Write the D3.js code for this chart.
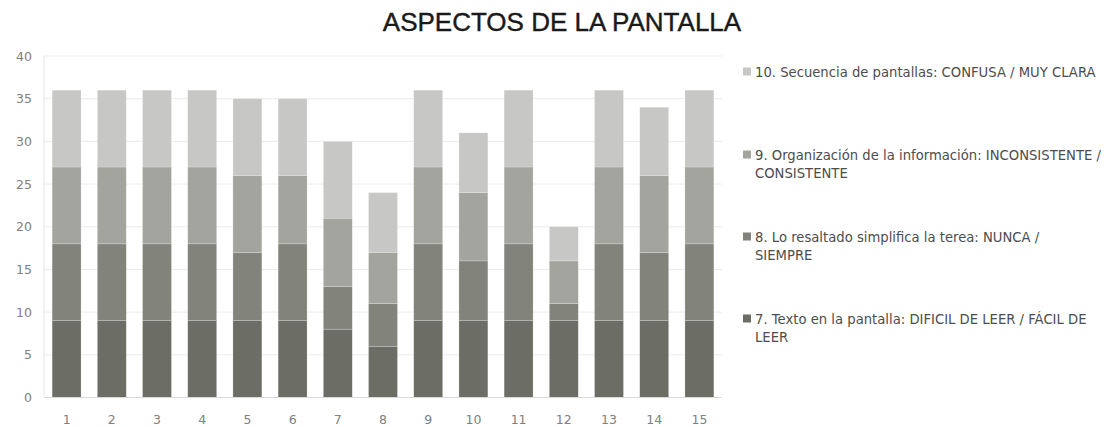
<!DOCTYPE html>
<html>
<head>
<meta charset="utf-8">
<script src="https://cdn.jsdelivr.net/npm/d3@7"></script>
<style>
  html, body { margin: 0; padding: 0; background: #fff; }
  svg { display: block; }
</style>
</head>
<body>
<svg id="chart" width="1117" height="427"></svg>
<script>
const categories = ["1","2","3","4","5","6","7","8","9","10","11","12","13","14","15"];
const seriesNames = [
  "7. Texto en la pantalla: DIFICIL DE LEER / FÁCIL DE LEER",
  "8. Lo resaltado simplifica la terea: NUNCA / SIEMPRE",
  "9. Organización de la información: INCONSISTENTE / CONSISTENTE",
  "10. Secuencia de pantallas: CONFUSA / MUY CLARA"
];
const s7  = [9,9,9,9,9,9,8,6,9,9,9,9,9,9,9];
const s8  = [9,9,9,9,8,9,5,5,9,7,9,2,9,8,9];
const s9  = [9,9,9,9,9,8,8,6,9,8,9,5,9,9,9];
const s10 = [9,9,9,9,9,9,9,7,9,7,9,4,9,8,9];
const yTicks = [0,5,10,15,20,25,30,35,40];
const title = "ASPECTOS DE LA PANTALLA";

const colors = ["#6c6d65", "#82837b", "#a3a49e", "#c7c7c5"];
const seriesVals = [s7, s8, s9, s10];

const svg = d3.select("#chart");
const W = 1117, H = 427;
const margin = {left: 44, right: W - 722, top: 56, bottom: H - 397.5};

const x = d3.scaleBand().domain(categories).range([margin.left, W - margin.right]).paddingInner(0.36).paddingOuter(0.18);
const y = d3.scaleLinear().domain([0, 40]).range([H - margin.bottom, margin.top]);

// gridlines
svg.append("g").selectAll("line").data(yTicks.filter(d => d > 0)).join("line")
  .attr("x1", margin.left).attr("x2", W - margin.right)
  .attr("y1", d => y(d)).attr("y2", d => y(d))
  .attr("stroke", "#ececec").attr("stroke-width", 1);

// left vertical line
svg.append("line")
  .attr("x1", margin.left).attr("x2", margin.left)
  .attr("y1", y(40)).attr("y2", y(0))
  .attr("stroke", "#e6e6e6");

// stacked data
const rows = categories.map((c, i) => {
  const o = {cat: c};
  seriesVals.forEach((s, k) => o["s" + k] = s[i]);
  return o;
});
const stack = d3.stack().keys(seriesVals.map((s, k) => "s" + k));
const stacked = stack(rows);

svg.append("g").selectAll("g").data(stacked).join("g")
  .attr("fill", (d, i) => colors[i])
  .selectAll("rect").data(d => d).join("rect")
  .attr("x", d => x(d.data.cat))
  .attr("width", x.bandwidth())
  .attr("y", d => y(d[1]))
  .attr("height", d => y(d[0]) - y(d[1]))
  .attr("stroke", "#ffffff").attr("stroke-opacity", 0.35).attr("stroke-width", 0.6);

// x axis baseline
svg.append("line")
  .attr("x1", margin.left).attr("x2", W - margin.right)
  .attr("y1", y(0)).attr("y2", y(0))
  .attr("stroke", "#d9d9d9");

const tickFont = "'DejaVu Sans', sans-serif";
// y axis
const yAxis = d3.axisLeft(y).tickValues(yTicks).tickSize(0).tickPadding(12);
const gy = svg.append("g").attr("transform", `translate(${margin.left},0)`).call(yAxis);
gy.select(".domain").remove();
gy.selectAll("text").attr("fill", "#808080").style("font-family", tickFont).style("font-size", "12.5px");

// x axis
const xAxis = d3.axisBottom(x).tickSize(0).tickPadding(18);
const gx = svg.append("g").attr("transform", `translate(0,${y(0)})`).call(xAxis);
gx.select(".domain").remove();
gx.selectAll("text").attr("fill", "#808080").style("font-family", tickFont).style("font-size", "12.5px");

// title
svg.append("text")
  .attr("x", 562).attr("y", 31)
  .attr("text-anchor", "middle")
  .style("font-family", "'Liberation Sans', Arial, sans-serif")
  .style("font-size", "26px")
  .attr("fill", "#1a1a1a")
  .attr("stroke", "#1a1a1a").attr("stroke-width", 0.4)
  .text(title);

// legend
const legendItems = [
  {idx: 3, lines: ["10. Secuencia de pantallas: CONFUSA / MUY CLARA"], y: 72},
  {idx: 2, lines: ["9. Organización de la información: INCONSISTENTE /", "CONSISTENTE"], y: 155},
  {idx: 1, lines: ["8. Lo resaltado simplifica la terea: NUNCA /", "SIEMPRE"], y: 237},
  {idx: 0, lines: ["7. Texto en la pantalla: DIFICIL DE LEER / FÁCIL DE", "LEER"], y: 319}
];
const lg = svg.append("g");
legendItems.forEach(item => {
  lg.append("rect").attr("x", 743).attr("y", item.y - 4.5).attr("width", 8).attr("height", 8)
    .attr("fill", colors[item.idx]);
  const t = lg.append("text")
    .attr("x", 755).attr("y", item.y + 5)
    .style("font-family", "'DejaVu Sans', sans-serif")
    .style("font-size", "13.2px")
    .attr("fill", "#4d4d4d");
  item.lines.forEach((ln, j) => {
    t.append("tspan").attr("x", 755).attr("dy", j === 0 ? 0 : 17.5).text(ln);
  });
});
</script>
</body>
</html>
